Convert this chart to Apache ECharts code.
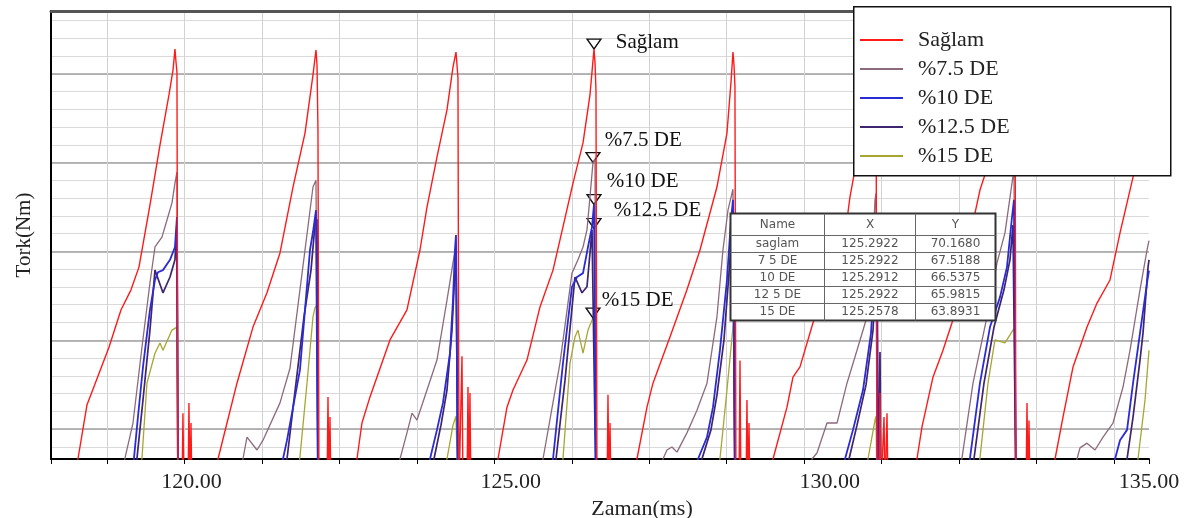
<!DOCTYPE html>
<html><head><meta charset="utf-8">
<script src="https://cdn.jsdelivr.net/npm/echarts@6/dist/echarts.min.js"></script>
<style>html,body{margin:0;padding:0;background:#fff}#c{width:1203px;height:518px}</style>
</head><body><div id="c"></div>
<script>
// ---------- DATA ----------
const seriesNames = ['Sağlam', '%7.5 DE', '%10 DE', '%12.5 DE', '%15 DE'];

const saglam = [
[118.176,60.3],[118.222,60.6],[118.363,61.86],[118.489,62.35],[118.708,63.21],[118.896,64.08],[119.053,64.55],[119.178,65.08],[119.350,66.53],[119.507,67.93],[119.648,69.10],[119.711,69.68],[119.742,70.17],[119.758,69.87],[119.773,69.64],[119.789,59.8],[119.852,59.8],[119.867,61.67],[119.883,59.8],[119.946,59.8],[119.961,61.91],[119.977,59.8],[119.993,61.44],[120.008,59.8],
[120.385,60.3],[120.416,60.6],[120.557,61.44],[120.713,62.37],[120.964,63.68],[121.183,64.48],[121.387,65.41],[121.591,66.95],[121.779,68.21],[121.904,69.57],[121.951,70.15],[121.967,69.80],[121.982,68.28],[121.998,59.8],[122.123,59.8],[122.139,62.05],[122.155,59.8],[122.170,61.58],[122.186,59.8],
[122.562,60.3],[122.593,60.6],[122.671,61.44],[122.797,62.05],[123.110,63.38],[123.376,64.08],[123.580,65.48],[123.690,66.48],[123.846,67.65],[124.003,68.75],[124.097,69.75],[124.144,70.10],[124.160,69.80],[124.175,69.50],[124.191,59.8],[124.222,59.8],[124.238,63.0],[124.254,59.8],[124.316,59.8],[124.332,62.28],[124.348,59.8],[124.363,62.14],[124.379,59.8],
[124.771,60.3],[124.802,60.6],[124.943,61.81],[125.037,62.21],[125.256,62.91],[125.460,64.15],[125.664,65.01],[125.820,66.02],[125.977,67.04],[126.134,67.98],[126.243,69.1],[126.306,70.17],[126.322,69.85],[126.337,69.2],[126.353,59.8],[126.510,59.8],[126.525,62.10],[126.541,59.8],[126.557,61.44],[126.572,59.8],
[126.948,60.3],[126.979,60.6],[127.136,61.81],[127.230,62.37],[127.496,63.45],[127.762,64.55],[127.966,65.48],[128.232,66.95],[128.389,68.21],[128.452,69.4],[128.483,70.10],[128.499,69.8],[128.514,69.3],[128.530,59.8],[128.577,59.8],[128.593,62.9],[128.608,59.8],[128.687,59.8],[128.702,61.98],[128.718,59.8],[128.734,61.44],[128.749,59.8],
[129.079,60.3],[129.110,60.6],[129.329,61.81],[129.423,62.51],[129.533,62.75],[129.737,63.78],[129.956,64.71],[130.207,65.48],[130.316,66.72],[130.473,68.0],[130.598,69.2],[130.708,70.15],[130.724,69.7],[130.739,59.8],[130.771,59.8],[130.786,62.14],[130.802,59.8],[130.833,59.8],[130.849,61.58],[130.865,59.8],[130.896,61.67],[130.912,59.8],
[131.334,60.3],[131.365,60.6],[131.444,61.35],[131.616,62.51],[131.773,63.14],[131.945,63.92],[132.149,65.48],[132.352,66.88],[132.556,67.81],[132.744,68.98],[132.838,69.68],[132.885,70.17],[132.901,69.8],[132.916,59.8],[133.073,59.8],[133.089,61.91],[133.104,59.8],[133.120,61.5],[133.136,59.8],
[133.497,60.3],[133.528,60.6],[133.653,61.58],[133.810,62.75],[134.029,63.68],[134.186,64.24],[134.389,64.78],[134.546,65.88],[134.750,67.18],[134.875,67.9],[135.0,68.7]
];

const de75 = [
[118.912,60.3],[118.959,60.62],[119.084,61.44],[119.225,63.21],[119.350,64.71],[119.429,65.55],[119.538,65.78],[119.617,66.18],[119.695,66.58],[119.742,67.04],[119.773,67.30],[119.789,59.8],
[120.760,60.3],[120.807,60.6],[120.870,61.11],[121.027,60.81],[121.121,61.04],[121.387,61.91],[121.544,62.72],[121.779,65.48],[121.904,66.95],[121.951,67.11],[121.982,59.8],
[123.235,60.3],[123.267,60.6],[123.376,61.21],[123.455,61.67],[123.533,61.51],[123.690,62.21],[123.846,62.91],[124.003,64.31],[124.097,65.18],[124.144,65.6],[124.175,59.8],
[125.476,60.3],[125.507,60.6],[125.773,62.84],[125.961,64.94],[126.055,65.25],[126.134,65.55],[126.196,65.95],[126.243,66.72],[126.290,67.52],[126.322,67.6],[126.337,59.8],
[127.355,60.3],[127.386,60.6],[127.449,60.81],[127.527,60.88],[127.606,60.76],[127.762,61.21],[127.919,61.74],[128.076,62.37],[128.232,63.92],[128.326,65.48],[128.405,66.41],[128.483,66.9],[128.514,59.8],
[129.690,60.3],[129.721,60.6],[129.799,60.74],[129.956,61.44],[130.113,61.44],[130.269,62.37],[130.426,63.14],[130.583,63.92],[130.661,65.2],[130.708,66.65],[130.724,66.8],[130.739,59.8],
[132.039,60.3],[132.070,60.62],[132.243,62.37],[132.462,63.92],[132.619,65.18],[132.744,65.88],[132.854,67.04],[132.885,67.35],[132.916,59.8],
[133.841,60.3],[133.872,60.6],[133.919,60.86],[134.029,60.97],[134.154,60.81],[134.280,61.11],[134.436,61.44],[134.593,62.28],[134.703,63.14],[134.859,64.55],[134.969,65.48],[135.0,65.7]
];

const de10 = [
[119.068,60.3],[119.100,60.62],[119.162,61.58],[119.241,62.75],[119.350,64.08],[119.429,64.78],[119.476,64.96],[119.554,65.01],[119.664,65.25],[119.742,65.55],[119.773,66.25],[119.789,59.8],
[121.403,60.3],[121.434,60.6],[121.497,61.04],[121.700,62.68],[121.857,65.48],[121.904,65.9],[121.951,66.41],[121.982,59.8],
[123.705,60.3],[123.737,60.6],[123.846,61.28],[123.940,61.91],[124.050,63.07],[124.097,64.31],[124.128,65.48],[124.144,65.83],[124.175,59.8],
[125.632,60.3],[125.664,60.6],[125.820,62.84],[125.961,64.62],[126.040,64.85],[126.134,64.94],[126.212,65.55],[126.275,66.02],[126.306,66.54],[126.337,59.8],
[127.903,60.3],[127.935,60.6],[128.076,61.11],[128.170,61.81],[128.279,63.14],[128.389,64.78],[128.452,66.18],[128.483,66.65],[128.514,59.8],
[130.207,60.3],[130.238,60.6],[130.363,61.28],[130.520,62.21],[130.645,63.54],[130.708,65.01],[130.739,65.71],[130.755,59.8],
[132.164,60.3],[132.196,60.62],[132.352,62.37],[132.509,63.68],[132.666,64.38],[132.775,65.08],[132.854,66.25],[132.885,66.65],[132.916,59.8],
[134.436,60.3],[134.468,60.6],[134.546,61.04],[134.656,61.28],[134.750,62.37],[134.859,63.54],[134.969,64.71],[135.0,65.0]
];

const de125 = [
[119.115,60.3],[119.147,60.62],[119.241,61.98],[119.350,63.61],[119.429,65.01],[119.554,64.48],[119.664,64.85],[119.742,65.25],[119.773,66.11],[119.789,59.8],
[121.465,60.3],[121.497,60.6],[121.606,61.98],[121.763,63.92],[121.873,65.01],[121.935,66.06],[121.967,66.2],[121.982,59.8],
[123.768,60.3],[123.799,60.6],[123.909,61.39],[124.003,62.21],[124.081,63.61],[124.128,65.01],[124.144,65.48],[124.175,59.8],
[125.679,60.3],[125.711,60.6],[125.852,62.44],[126.008,64.85],[126.118,64.48],[126.196,64.62],[126.275,65.95],[126.306,65.98],[126.337,59.8],
[127.966,60.3],[127.997,60.6],[128.138,61.28],[128.232,62.09],[128.342,63.38],[128.436,65.25],[128.483,66.18],[128.514,59.8],
[130.269,60.3],[130.301,60.6],[130.426,61.39],[130.567,62.33],[130.677,63.61],[130.724,65.01],[130.739,65.48],[130.755,59.8],[130.771,59.8],[130.786,63.1],[130.802,59.8],
[132.227,60.3],[132.258,60.6],[132.415,62.37],[132.572,63.68],[132.728,64.55],[132.822,65.25],[132.869,66.06],[132.916,59.8],
[134.624,60.3],[134.656,60.6],[134.750,61.58],[134.859,62.91],[134.906,63.54],[134.985,65.08],[135.0,65.25]
];

const de15 = [
[119.194,60.3],[119.225,60.62],[119.303,62.37],[119.429,63.07],[119.507,63.31],[119.554,63.14],[119.695,63.61],[119.773,63.68],[119.789,59.8],
[121.669,60.3],[121.700,60.65],[121.810,62.37],[121.904,63.92],[121.935,64.13],[121.967,64.2],[121.982,59.8],
[123.972,60.3],[124.003,60.6],[124.097,61.39],[124.144,61.6],[124.175,59.8],
[125.789,60.3],[125.820,60.6],[125.930,62.84],[126.008,63.45],[126.055,63.61],[126.134,63.07],[126.212,63.61],[126.290,63.89],[126.322,63.95],[126.337,59.8],
[128.248,60.3],[128.279,60.6],[128.389,62.21],[128.483,63.68],[128.499,64.08],[128.514,59.8],
[130.567,60.3],[130.598,60.6],[130.708,61.51],[130.724,61.6],[130.739,59.8],
[132.321,60.3],[132.352,60.62],[132.478,62.37],[132.587,63.38],[132.744,63.31],[132.869,63.61],[132.901,63.65],[132.916,59.8],
[134.797,60.3],[134.828,60.6],[134.938,61.98],[135.0,63.14]
];

const seriesData = [saglam, de75, de10, de125, de15];

// marker (cursor) readings
const markerTimes  = [126.306, 126.290, 126.306, 126.306, 126.290];
const markerValues = [70.17, 67.52, 66.54, 65.98, 63.89];

// cursor table
const tableHeader = ['Name', 'X', 'Y'];
const tableNames  = ['saglam', '7 5 DE', '10 DE', '12 5 DE', '15 DE'];
const tableX      = ['125.2922', '125.2922', '125.2912', '125.2922', '125.2578'];
const tableY      = ['70.1680', '67.5188', '66.5375', '65.9815', '63.8931'];

// axes
const xMin = 117.8, xMax = 135, xLabelStep = 5;
const yMin = 60.6, yMax = 71.06;

// ---------- STYLE ----------
const serif = 'Liberation Serif';
const colors = ['#ff1a1a', '#8c6a7c', '#2b2bd6', '#3f2470', '#a6a633'];
const widths = [1.4, 1.3, 1.8, 1.7, 1.3];
const zs = [9, 5, 7, 6, 4];
const labelOffsets = [[14, -2], [4, -17], [5, -18], [12, -13], [1, -13]];

const series = seriesNames.map((n, i) => ({
  name: n, type: 'line', data: seriesData[i], xAxisIndex: 0, yAxisIndex: 0,
  symbol: 'none', showSymbol: false, color: colors[i], z: zs[i], clip: true,
  lineStyle: { width: widths[i], color: colors[i] },
  emphasis: { disabled: true },
  markPoint: {
    symbol: 'triangle', symbolRotate: 180, symbolSize: [14, 10], symbolOffset: [0, -5],
    itemStyle: { color: 'rgba(255,255,255,0.5)', borderColor: '#111', borderWidth: 1.3 },
    label: { show: true, position: 'right', distance: 0, offset: labelOffsets[i],
      formatter: '{b}', fontFamily: serif, fontSize: 21, color: '#111' },
    data: [{ name: n, coord: [markerTimes[i], markerValues[i]] }]
  }
}));

// table graphic
const colW = [94, 91, 80], headH = 22, rowH = 17;
const tW = colW.reduce((a, b) => a + b, 0), tH = headH + rowH * tableNames.length;
const tChildren = [{ type: 'rect', z: 20, shape: { x: 0, y: 0, width: tW, height: tH }, style: { fill: '#fff', stroke: '#333', lineWidth: 2 } }];
for (let i = 0; i < tableNames.length; i++) {
  const y = headH + i * rowH;
  tChildren.push({ type: 'line', z: 21, shape: { x1: 0, y1: y, x2: tW, y2: y }, style: { stroke: '#666', lineWidth: 1 } });
}
let cx = 0;
for (let j = 0; j < colW.length - 1; j++) {
  cx += colW[j];
  tChildren.push({ type: 'line', z: 21, shape: { x1: cx, y1: 0, x2: cx, y2: tH }, style: { stroke: '#666', lineWidth: 1 } });
}
const rows = [tableHeader].concat(tableNames.map((n, i) => [n, tableX[i], tableY[i]]));
rows.forEach((r, i) => {
  const yc = i === 0 ? headH / 2 : headH + (i - 1) * rowH + rowH / 2;
  let x0 = 0;
  r.forEach((txt, j) => {
    tChildren.push({ type: 'text', z: 22, x: x0 + colW[j] / 2, y: yc,
      style: { text: txt, align: 'center', verticalAlign: 'middle', fontFamily: 'DejaVu Sans', fontSize: 12, fill: '#555' } });
    x0 += colW[j];
  });
});

const option = {
  animation: false,
  backgroundColor: '#fff',
  grid: { left: 51, right: 54, top: 11, bottom: 59, outerBoundsMode: 'none' },
  xAxis: [
    { type: 'value', min: xMin, max: xMax, minInterval: xLabelStep, maxInterval: xLabelStep, position: 'bottom',
      axisLine: { show: true, onZero: false, lineStyle: { color: '#000', width: 2 } },
      axisTick: { show: false }, splitLine: { show: false },
      axisLabel: { showMinLabel: false, formatter: v => v.toFixed(2), fontFamily: serif, fontSize: 22, color: '#222', margin: 12 },
      name: 'Zaman(ms)', nameLocation: 'middle', nameGap: 30,
      nameTextStyle: { fontFamily: serif, fontSize: 22, color: '#222', padding: [0, 0, 0, 84] } },
    { type: 'value', min: -0.723, max: 13.452, minInterval: 1, maxInterval: 1, position: 'bottom',
      axisLine: { show: false, onZero: false }, axisLabel: { show: false },
      axisTick: { show: true, length: 5, lineStyle: { color: '#000', width: 1 } },
      splitLine: { show: true, showMinLine: false, showMaxLine: false, lineStyle: { color: '#d2d2d2', width: 1 } } },
    { type: 'value', min: 0, max: 1, position: 'top',
      axisLine: { show: true, onZero: false, lineStyle: { color: '#555', width: 3 } },
      axisTick: { show: false }, axisLabel: { show: false }, splitLine: { show: false } }
  ],
  yAxis: [
    { type: 'value', min: yMin, max: yMax, position: 'left',
      axisLine: { show: true, onZero: false, lineStyle: { color: '#000', width: 2 } },
      axisTick: { show: false }, axisLabel: { show: false }, splitLine: { show: false },
      name: 'Tork(Nm)', nameLocation: 'middle', nameGap: 16, nameRotate: 90,
      nameTextStyle: { fontFamily: serif, fontSize: 21, color: '#222' } },
    { type: 'value', min: -1.69, max: 23.549, minInterval: 1, maxInterval: 1, position: 'left',
      axisLine: { show: false, onZero: false }, axisTick: { show: false }, axisLabel: { show: false },
      splitLine: { show: true, showMinLine: false, showMaxLine: false, lineStyle: { color: '#dadada', width: 1 } } },
    { type: 'value', min: -1.69, max: 23.549, minInterval: 5, maxInterval: 5, position: 'left',
      axisLine: { show: false, onZero: false }, axisTick: { show: false }, axisLabel: { show: false },
      splitLine: { show: true, showMinLine: false, showMaxLine: false, lineStyle: { color: '#a0a0a0', width: 1.5 } } }
  ],
  legend: {
    data: seriesNames, orient: 'vertical', left: 860, top: 29, icon: 'rect',
    itemWidth: 43, itemHeight: 2, itemGap: 7, padding: 0, z: 40, selectedMode: false,
    textStyle: { fontFamily: serif, fontSize: 22, color: '#222', lineHeight: 22, padding: [0, 0, 0, 10] }
  },
  graphic: [
    { type: 'rect', left: 853, top: 6, z: 30, shape: { width: 317, height: 169 }, style: { fill: '#fff', stroke: '#111', lineWidth: 1.5 } },
    { type: 'group', left: 728, top: 211, z: 30, children: tChildren }
  ],
  series: series
};

const chart = echarts.init(document.getElementById('c'), null, { renderer: 'canvas' });
chart.setOption(option);
</script></body></html>
